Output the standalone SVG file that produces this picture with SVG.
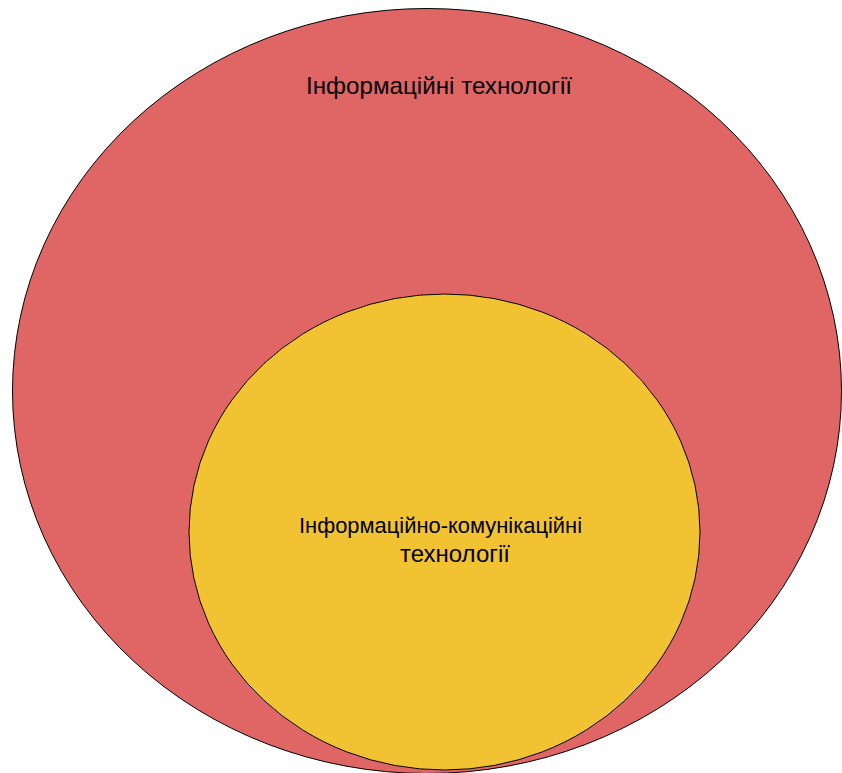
<svg xmlns="http://www.w3.org/2000/svg" width="842" height="773" viewBox="0 0 842 773">
<style>
.e{stroke:#000;stroke-width:1}
.t{font-family:"Liberation Sans",Arial,sans-serif;fill:#000;text-anchor:middle}
</style>
<rect width="842" height="773" fill="#fff"/>
<g id="it">
<ellipse class="e" cx="427" cy="391" rx="414.5" ry="382.5" fill="#e06666"/>
<text class="t" x="439" y="94" font-size="24" textLength="266" lengthAdjust="spacingAndGlyphs">Інформаційні технології</text>
</g>
<g id="ict">
<ellipse class="e" cx="444.5" cy="532" rx="255.5" ry="238" fill="#f1c232"/>
<text class="t" x="440.5" y="533" font-size="22" textLength="283" lengthAdjust="spacingAndGlyphs">Інформаційно-комунікаційні</text>
<text class="t" x="455" y="562" font-size="23" textLength="110" lengthAdjust="spacingAndGlyphs">технології</text>
</g>
<g id="connectors"/>
</svg>
